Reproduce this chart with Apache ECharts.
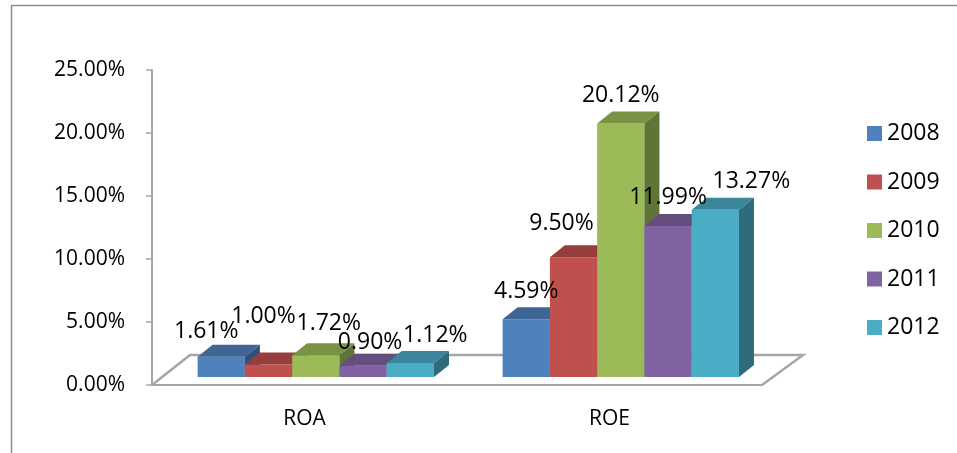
<!DOCTYPE html>
<html>
<head>
<meta charset="utf-8">
<script src="https://cdn.jsdelivr.net/npm/echarts@6/dist/echarts.min.js"></script>
<style>
  html, body { margin: 0; padding: 0; background: #fff; }
  #chart { width: 957px; height: 453px; }
</style>
</head>
<body>
<div id="chart"></div>
<script>
// data
var categories = ['ROA', 'ROE'];
var years = ['2008', '2009', '2010', '2011', '2012'];
var v2008 = [0.0161, 0.0459];
var v2009 = [0.0100, 0.0950];
var v2010 = [0.0172, 0.2012];
var v2011 = [0.0090, 0.1199];
var v2012 = [0.0112, 0.1327];
var yTicks = [0, 0.05, 0.10, 0.15, 0.20, 0.25];

var yearValues = [v2008, v2009, v2010, v2011, v2012];
var colors = ['#4F81BD', '#C0504D', '#9BBB59', '#8064A2', '#4BACC6'];

// label nudges (Excel moved some labels to avoid overlap) [year][category] -> [dx, dy]
var labelNudge = [
  [[-15, 3], [0, 0]],
  [[-5, -20], [-12, -6]],
  [[13, -4], [0, 0]],
  [[7, 5], [0, 0]],
  [[25, 1], [36, 0]]
];

function shade(hex, f) {
  var n = parseInt(hex.slice(1), 16);
  var r = Math.round(((n >> 16) & 255) * f);
  var g = Math.round(((n >> 8) & 255) * f);
  var b = Math.round((n & 255) * f);
  return 'rgb(' + r + ',' + g + ',' + b + ')';
}

var depthX = 15, depthY = 12, lift = 8;

function renderBar(params, api) {
  var yi = params.seriesIndex;
  var cat = api.value(0);
  var v = api.value(1);
  var bandW = api.size([1, 0])[0];
  var barW = bandW * 0.155;
  var base = api.coord([cat, 0]);
  var top = api.coord([cat, v]);
  var x0 = base[0] + bandW * 0.037 - 2.5 * barW + yi * barW;
  var yb = base[1] - lift;
  var yt = top[1] - lift;
  var c = colors[yi];
  var nd = labelNudge[yi][cat];
  return {
    type: 'group',
    children: [
      { type: 'rect', shape: { x: x0, y: yt, width: barW, height: yb - yt }, style: { fill: c } },
      { type: 'polygon', shape: { points: [[x0, yt], [x0 + barW, yt], [x0 + barW + depthX, yt - depthY], [x0 + depthX, yt - depthY]] }, style: { fill: shade(c, 0.78) } },
      { type: 'polygon', shape: { points: [[x0 + barW, yt], [x0 + barW + depthX, yt - depthY], [x0 + barW + depthX, yb - depthY], [x0 + barW, yb]] }, style: { fill: shade(c, 0.62) } },
      { type: 'text', z2: 10, style: {
          x: x0 + barW / 2 + nd[0], y: yt - 28 + nd[1],
          text: (v * 100).toFixed(2) + '%',
          textAlign: 'center', textVerticalAlign: 'middle',
          fontSize: 23, fontFamily: 'Open Sans', fill: '#000'
        } }
    ]
  };
}

function renderFloor(params, api) {
  var bandW = api.size([1, 0])[0];
  var p0 = api.coord([0, 0]);
  var left = p0[0] - bandW / 2;
  var right = left + bandW * categories.length;
  var y0 = p0[1];
  return {
    type: 'polyline',
    shape: { points: [[left, y0], [left + 38, y0 - 30], [right + 41, y0 - 30], [right, y0]] },
    style: { stroke: '#a6a6a6', lineWidth: 2.5, fill: null }
  };
}

var series = years.map(function (y, i) {
  return {
    name: y,
    type: 'custom',
    renderItem: renderBar,
    itemStyle: { color: colors[i] },
    z: 3,
    data: yearValues[i].map(function (v, ci) { return [ci, v]; })
  };
});
series.push({
  name: 'floor',
  type: 'custom',
  renderItem: renderFloor,
  z: 1,
  silent: true,
  data: [[0, 0]]
});

var chart = echarts.init(document.getElementById('chart'));
chart.setOption({
  animation: false,
  backgroundColor: '#fff',
  graphic: [{
    type: 'rect', left: 9, top: 3,
    shape: { width: 1000, height: 500 },
    style: { fill: null, stroke: '#8c8c8c', lineWidth: 1.5 },
    z: 0
  }],
  grid: { left: 152, right: 195, top: 70, bottom: 68 },
  legend: {
    data: years,
    orient: 'vertical',
    left: 867,
    top: 122,
    padding: 0,
    itemWidth: 15,
    itemHeight: 15,
    itemGap: 25.5,
    icon: 'rect',
    textStyle: { fontSize: 23, fontFamily: 'Open Sans', color: '#000', lineHeight: 23 }
  },
  xAxis: {
    type: 'category',
    data: categories,
    axisLine: { lineStyle: { color: '#a6a6a6', width: 2 } },
    axisTick: { length: 7, lineStyle: { color: '#a6a6a6', width: 1.5 } },
    axisLabel: { margin: 24, fontSize: 21, fontFamily: 'Open Sans', color: '#000' }
  },
  yAxis: {
    type: 'value',
    min: yTicks[0],
    max: yTicks[yTicks.length - 1],
    interval: yTicks[1] - yTicks[0],
    axisLine: { show: true, lineStyle: { color: '#a6a6a6', width: 2 } },
    axisTick: { show: true, length: 6, lineStyle: { color: '#a6a6a6', width: 1.5 } },
    splitLine: { show: false },
    axisLabel: {
      margin: 27, fontSize: 21, fontFamily: 'Open Sans', color: '#000',
      formatter: function (v) { return (v * 100).toFixed(2) + '%'; }
    }
  },
  series: series
});
</script>
</body>
</html>
